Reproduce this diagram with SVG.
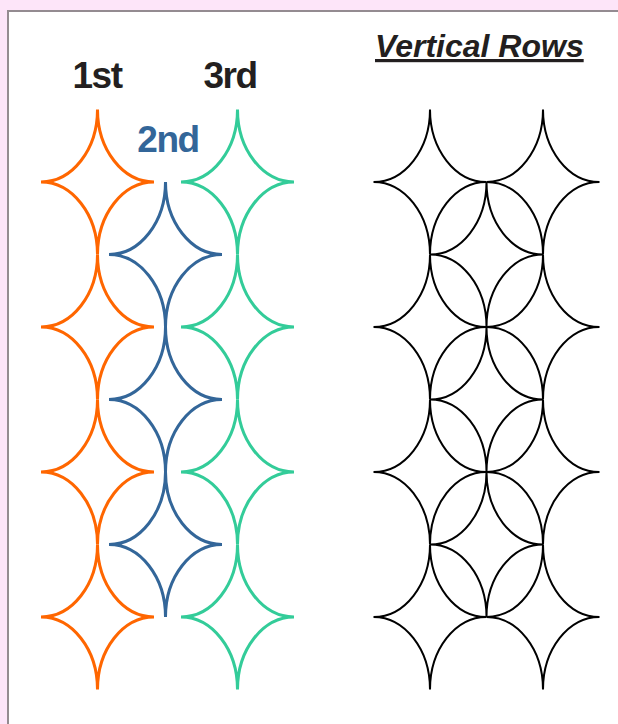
<svg xmlns="http://www.w3.org/2000/svg" xmlns:xlink="http://www.w3.org/1999/xlink" width="618" height="724" viewBox="0 0 618 724">
<style>
.lbl{font-family:"Liberation Sans",Arial,sans-serif;font-weight:bold;font-size:37px;fill:#231f20;letter-spacing:-1.5px;text-anchor:middle}
.title{font-family:"Liberation Sans",Arial,sans-serif;font-weight:bold;font-style:italic;font-size:32px;fill:#231f20;text-decoration:underline}
.col{fill:none}
.orange{stroke:#ff6600;stroke-width:3}
.blue{stroke:#336699;stroke-width:3}
.green{stroke:#33cc99;stroke-width:3}
.black{stroke:#000000;stroke-width:2}
</style>
<defs>
<path id="star" d="M0,-72.5 A56.5,72.5 0 0 0 56.5,0 A56.5,72.5 0 0 0 0,72.5 A56.5,72.5 0 0 0 -56.5,0 A56.5,72.5 0 0 0 0,-72.5 Z"/>
</defs>
<rect x="0" y="0" width="618" height="724" fill="#fde5f9"/>
<rect x="8" y="11" width="620" height="730" fill="#ffffff" stroke="#948b91" stroke-width="2"/>
<text class="title" x="375" y="57">Vertical Rows</text>
<text class="lbl" x="97" y="88">1st</text>
<text class="lbl" x="230" y="88">3rd</text>
<text class="lbl" x="168" y="152" style="fill:#336699">2nd</text>
<g id="row1" class="col orange">
<use xlink:href="#star" x="97.5" y="182"/>
<use xlink:href="#star" x="97.5" y="327"/>
<use xlink:href="#star" x="97.5" y="472"/>
<use xlink:href="#star" x="97.5" y="617"/>
</g>
<g id="row2" class="col blue">
<use xlink:href="#star" x="165.5" y="254.5"/>
<use xlink:href="#star" x="165.5" y="399.5"/>
<use xlink:href="#star" x="165.5" y="544.5"/>
</g>
<g id="row3" class="col green">
<use xlink:href="#star" x="237.5" y="182"/>
<use xlink:href="#star" x="237.5" y="327"/>
<use xlink:href="#star" x="237.5" y="472"/>
<use xlink:href="#star" x="237.5" y="617"/>
</g>
<g id="combined" class="col black">
<use xlink:href="#star" x="430" y="182"/>
<use xlink:href="#star" x="430" y="327"/>
<use xlink:href="#star" x="430" y="472"/>
<use xlink:href="#star" x="430" y="617"/>
<use xlink:href="#star" x="486.5" y="254.5"/>
<use xlink:href="#star" x="486.5" y="399.5"/>
<use xlink:href="#star" x="486.5" y="544.5"/>
<use xlink:href="#star" x="543" y="182"/>
<use xlink:href="#star" x="543" y="327"/>
<use xlink:href="#star" x="543" y="472"/>
<use xlink:href="#star" x="543" y="617"/>
</g>
</svg>
